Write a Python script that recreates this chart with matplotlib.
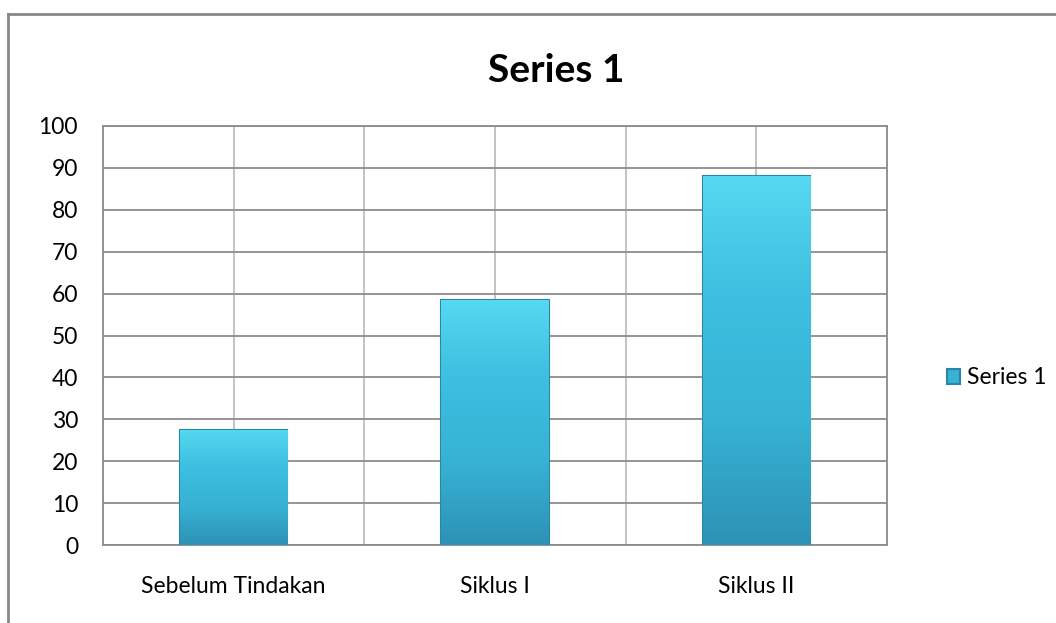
import numpy as np
import matplotlib.pyplot as plt
from matplotlib.colors import LinearSegmentedColormap

plt.rcParams['font.family'] = ['Lato', 'DejaVu Sans']

categories = ['Sebelum Tindakan', 'Siklus I', 'Siklus II']
values = [27.5, 58.5, 88]
series_name = 'Series 1'

fig = plt.figure(figsize=(10.56, 6.23), dpi=100)
ax = fig.add_axes([103/1056, 1-545/623, 784/1056, 419/623])

x = np.arange(len(categories))
bars = ax.bar(x, values, width=0.41, color='#36b2d4', edgecolor='#2a86a6',
              linewidth=1.5, zorder=3, label=series_name)

# vertical gradient in each bar
cmap = LinearSegmentedColormap.from_list('g', ['#2d92b5', '#36b2d4', '#3cbfe0', '#55d8f0'])
grad = np.linspace(0, 1, 256).reshape(-1, 1)
for b in bars:
    x0, y0 = b.get_x(), b.get_y()
    w, h = b.get_width(), b.get_height()
    im = ax.imshow(grad, cmap=cmap, origin='lower', aspect='auto',
                   extent=[x0, x0 + w, y0, y0 + h], zorder=3)
    im.set_clip_path(b)

ax.set_xlim(-0.5, len(categories) - 0.5)
ax.set_ylim(0, 100)
ax.set_yticks(range(0, 101, 10))
ax.set_xticks(x)
ax.set_xticklabels(categories)
ax.tick_params(axis='both', which='both', length=0, labelsize=16.5, colors='black')
ax.tick_params(axis='x', pad=22)
ax.tick_params(axis='y', pad=18)

ax.grid(True, axis='y', color='#8c8c8c', linewidth=1.3, zorder=0)
# vertical gridlines at every half category
for xv in np.arange(-0.5, len(categories), 0.5):
    ax.axvline(xv, color='#bdbdbd', linewidth=1.3, zorder=0)
for s in ax.spines.values():
    s.set_color('#8c8c8c')
    s.set_linewidth(1.3)

fig.text(556/1056, 1-70/623, series_name, ha='center', va='center',
         fontsize=28, fontweight='bold')

leg = fig.legend(handles=[bars], labels=[series_name], loc='center left',
                 bbox_to_anchor=(926/1056, 1-378/623), frameon=False,
                 fontsize=16.5, handlelength=0.6, handleheight=0.6,
                 handletextpad=0.3)

# outer chart border (left and top edges visible)
fig.add_artist(plt.Line2D([8/1056, 8/1056], [0, 1-14/623], transform=fig.transFigure,
                          color='#888888', linewidth=2))
fig.add_artist(plt.Line2D([8/1056, 1], [1-14/623, 1-14/623], transform=fig.transFigure,
                          color='#888888', linewidth=2))

fig.savefig('out.png', dpi=100)
